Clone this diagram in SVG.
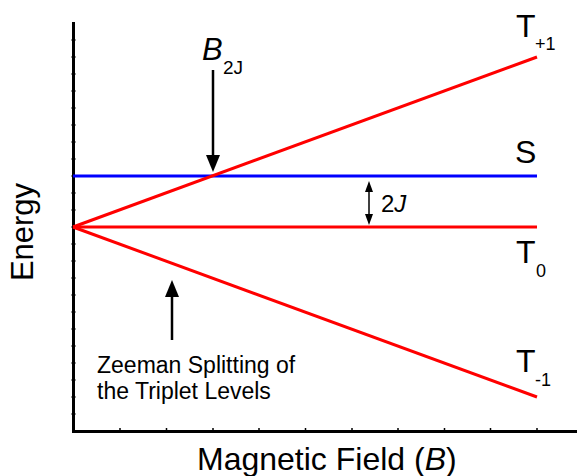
<svg xmlns="http://www.w3.org/2000/svg" width="577" height="476" viewBox="0 0 577 476">
<style>
text{font-family:"Liberation Sans",Arial,sans-serif;fill:#000}
.ax{stroke:#000;stroke-width:3;fill:none}
.tk{stroke:#000;stroke-width:1.5}
.red{stroke:#ff0000;stroke-width:3;fill:none}
.blue{stroke:#0000ff;stroke-width:3;fill:none}
.arr{stroke:#000;stroke-width:2.5}
</style>
<rect width="577" height="476" fill="#fff"/>
<g id="axes">
<path class="ax" d="M73.5,22 V431.5 H577"/>
<g class="tk">
<path d="M71.5,40H75.5M71.5,57H75.5M71.5,74H75.5M71.5,91H75.5M71.5,108H75.5M71.5,125H75.5M71.5,142H75.5M71.5,159H75.5M71.5,176H75.5M71.5,193H75.5M71.5,210H75.5M71.5,227H75.5M71.5,244H75.5M71.5,261H75.5M71.5,278H75.5M71.5,295H75.5M71.5,312H75.5M71.5,329H75.5M71.5,346H75.5M71.5,363H75.5M71.5,380H75.5M71.5,397H75.5M71.5,414H75.5"/>
<path d="M120,428V431M166.5,428V431M213,428V431M259,428V431M305.5,428V431M352,428V431M398,428V431M444.5,428V431M490.5,428V431M537,428V431"/>
</g>
</g>
<g id="levels">
<line id="S" class="blue" x1="73" y1="176" x2="537" y2="176"/>
<line id="T0" class="red" x1="73" y1="227" x2="537" y2="227"/>
<line id="Tp1" class="red" x1="73" y1="227" x2="537" y2="57"/>
<line id="Tm1" class="red" x1="73" y1="227" x2="537" y2="397"/>
</g>
<g id="connectors">
<line class="arr" x1="213" y1="70" x2="213" y2="157"/>
<polygon points="206,155 220,155 213,172"/>
<line class="arr" x1="172" y1="295" x2="172" y2="340"/>
<polygon points="165,297 179,297 172,280"/>
<line stroke="#000" stroke-width="1.5" x1="369" y1="190" x2="369" y2="217"/>
<polygon points="365,192 373,192 369,181"/>
<polygon points="365,214 373,214 369,225"/>
</g>
<g id="labels">
<text x="202" y="60" font-size="31" font-style="italic">B</text>
<text x="223" y="74" font-size="19">2J</text>
<text x="516" y="37" font-size="32">T</text>
<text x="535" y="50" font-size="18">+1</text>
<text x="515" y="163" font-size="32">S</text>
<text x="516" y="263" font-size="32">T</text>
<text x="536" y="277" font-size="18">0</text>
<text x="516" y="372" font-size="32">T</text>
<text x="535" y="386" font-size="18">-1</text>
<text x="381" y="212" font-size="24">2<tspan font-style="italic">J</tspan></text>
<text x="97" y="373" font-size="23">Zeeman Splitting of</text>
<text x="97" y="399" font-size="23">the Triplet Levels</text>
<text x="197" y="470" font-size="32">Magnetic Field (<tspan font-style="italic">B</tspan>)</text>
<text transform="translate(33,232) rotate(-90)" text-anchor="middle" font-size="31">Energy</text>
</g>
</svg>
